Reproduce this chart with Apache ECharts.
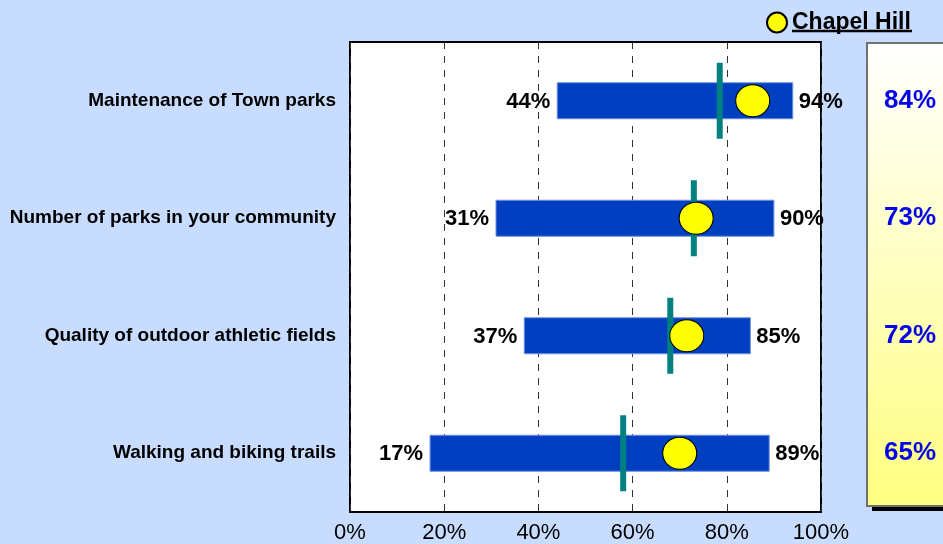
<!DOCTYPE html>
<html>
<head>
<meta charset="utf-8">
<script src="https://cdn.jsdelivr.net/npm/echarts@6/dist/echarts.min.js"></script>
<style>
  html, body { margin: 0; padding: 0; background: #c7dcff; }
  #chart { width: 943px; height: 544px; }
</style>
</head>
<body>
<div id="chart"></div>
<script>
// data
const categories = [
  'Maintenance of Town parks',
  'Number of parks in your community',
  'Quality of outdoor athletic fields',
  'Walking and biking trails'
]
const lowValues = [44, 31, 37, 17]
const highValues = [94, 90, 85, 89]
const averageValues = [78.5, 73, 68, 58]
const chapelHillValues = [85.5, 73.5, 71.5, 70]
const chapelHillLabels = ['84%', '73%', '72%', '65%']
const xTicks = [0, 20, 40, 60, 80, 100]

const font = '"Liberation Sans", Arial, sans-serif'
const chart = echarts.init(document.getElementById('chart'))

const rangeData = categories.map((c, i) => [i, lowValues[i], highValues[i]])

chart.setOption({
  backgroundColor: '#c7dcff',
  animation: false,
  textStyle: { fontFamily: font },
  legend: {
    left: 761,
    top: 6,
    itemWidth: 22,
    itemHeight: 20,
    itemGap: 4,
    data: ['Chapel Hill'],
    textStyle: { fontSize: 23, fontWeight: 'bold', color: '#000', fontFamily: font, padding: [0, 0, 0, -1] }
  },
  grid: {
    left: 350, right: 122, top: 42, bottom: 32,
    show: true,
    backgroundColor: '#fff',
    borderColor: '#000',
    borderWidth: 2
  },
  xAxis: {
    type: 'value',
    min: xTicks[0],
    max: xTicks[xTicks.length - 1],
    interval: 20,
    axisLine: { show: false },
    axisTick: { show: false },
    axisLabel: {
      formatter: '{value}%',
      fontSize: 22,
      color: '#000',
      margin: 10,
      fontFamily: font
    },
    splitLine: { lineStyle: { color: '#333', type: [7, 7], width: 1 } }
  },
  yAxis: [
    {
      type: 'category',
      data: categories,
      inverse: true,
      axisLine: { show: false },
      axisTick: { show: false },
      splitLine: { show: false },
      axisLabel: { fontSize: 19, fontWeight: 'bold', color: '#000', margin: 14, fontFamily: font, padding: [4, 0, 0, 0] }
    },
    {
      type: 'category',
      data: chapelHillLabels,
      inverse: true,
      position: 'right',
      axisLine: { show: false },
      axisTick: { show: false },
      splitLine: { show: false },
      axisLabel: { fontSize: 26, fontWeight: 'bold', color: '#0505e8', margin: 89, align: 'center', fontFamily: font },
      z: 5
    }
  ],
  graphic: [
    {
      type: 'rect',
      z: -2,
      shape: { x: 872, y: 48, width: 90, height: 463 },
      style: { fill: '#000' }
    },
    {
      type: 'rect',
      z: -1,
      shape: { x: 867, y: 43, width: 90, height: 463 },
      style: {
        fill: new echarts.graphic.LinearGradient(0, 0, 0, 1, [
          { offset: 0, color: '#ffffff' },
          { offset: 1, color: '#ffff80' }
        ]),
        stroke: '#707070',
        lineWidth: 2
      }
    },
    {
      type: 'line',
      shape: { x1: 792, y1: 31, x2: 912, y2: 31 },
      style: { stroke: '#000', lineWidth: 2.5 }
    }
  ],
  series: [
    {
      type: 'custom',
      name: 'range',
      data: rangeData,
      encode: { x: [1, 2], y: 0 },
      renderItem: (params, api) => {
        const idx = api.value(0)
        const lo = api.coord([api.value(1), idx])
        const hi = api.coord([api.value(2), idx])
        const h = 36
        return {
          type: 'group',
          children: [
            {
              type: 'rect',
              shape: { x: lo[0], y: lo[1] - h / 2, width: hi[0] - lo[0], height: h },
              style: { fill: '#0040c0', stroke: '#6d8fe0', lineWidth: 1 }
            },
            {
              type: 'text',
              x: lo[0] - 7, y: lo[1] + 1,
              style: {
                text: api.value(1) + '%', fontSize: 22, fontWeight: 'bold', fill: '#000',
                align: 'right', verticalAlign: 'middle', fontFamily: font
              }
            },
            {
              type: 'text',
              x: hi[0] + 6, y: hi[1] + 1,
              style: {
                text: api.value(2) + '%', fontSize: 22, fontWeight: 'bold', fill: '#000',
                align: 'left', verticalAlign: 'middle', fontFamily: font
              }
            }
          ]
        }
      },
      z: 2
    },
    {
      type: 'scatter',
      name: 'Average',
      data: averageValues.map((v, i) => [v, i]),
      symbol: 'rect',
      symbolSize: [6, 76],
      itemStyle: { color: '#008080', opacity: 1 },
      z: 3
    },
    {
      type: 'scatter',
      name: 'Chapel Hill',
      data: chapelHillValues.map((v, i) => [v, i]),
      symbol: 'circle',
      symbolSize: [34, 32],
      itemStyle: { color: '#ffff00', borderColor: '#000', borderWidth: 1, opacity: 1 },
      z: 4
    }
  ]
})
</script>
</body>
</html>
